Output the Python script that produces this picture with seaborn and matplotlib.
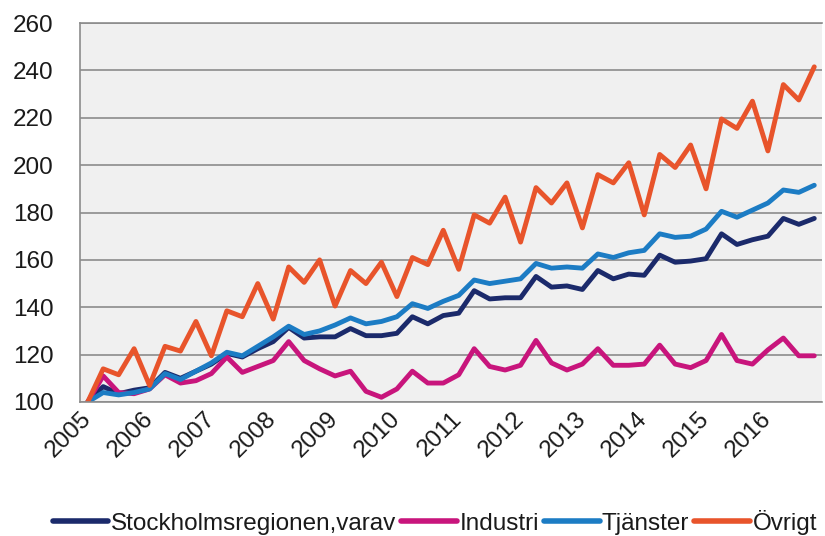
import pandas as pd
import matplotlib.pyplot as plt
import seaborn as sns
from matplotlib.lines import Line2D

years = [str(y) for y in range(2005, 2017)]
quarters = [f"{y}K{q}" for y in years for q in range(1, 5)]

stockholm = [100, 106.5, 103.5, 105, 106, 112.5, 110, 113, 116, 120.5, 119, 122.5,
             125.5, 131.5, 127, 127.5, 127.5, 131, 128, 128, 129, 136, 133, 136.5,
             137.5, 147, 143.5, 144, 144, 153, 148.5, 149, 147.5, 155.5, 152, 154,
             153.5, 162, 159, 159.5, 160.5, 171, 166.5, 168.5, 170, 177.5, 175, 177.5]
industri = [100, 111, 104, 103.5, 105.5, 111.5, 108, 109, 112, 119, 112.5, 115,
            117.5, 125.5, 117.5, 114, 111, 113, 104.5, 102, 105.5, 113, 108, 108,
            111.5, 122.5, 115, 113.5, 115.5, 126, 116.5, 113.5, 116, 122.5, 115.5, 115.5,
            116, 124, 116, 114.5, 117.5, 128.5, 117.5, 116, 122, 127, 119.5, 119.5]
tjanster = [100, 104, 103, 104, 105.5, 112, 109.5, 113, 116.5, 121, 119.5, 123.5,
            127.5, 132, 128.5, 130, 132.5, 135.5, 133, 134, 136, 141.5, 139.5, 142.5,
            145, 151.5, 150, 151, 152, 158.5, 156.5, 157, 156.5, 162.5, 161, 163,
            164, 171, 169.5, 170, 173, 180.5, 178, 181, 184, 189.5, 188.5, 191.5]
ovrigt = [100, 114, 111.5, 122.5, 107, 123.5, 121.5, 134, 119.5, 138.5, 136, 150,
          135, 157, 150.5, 160, 140.5, 155.5, 150, 159, 144.5, 161, 158, 172.5,
          156, 179, 175.5, 186.5, 167.5, 190.5, 184, 192.5, 173.5, 196, 192.5, 201,
          179, 204.5, 199, 208.5, 190, 219.5, 215.5, 227, 206, 234, 227.5, 241.5]

series_names = ["Stockholmsregionen,varav", "Industri", "Tjänster", "Övrigt"]
colors = ["#1B2A6B", "#C8157C", "#1C7CC4", "#E8542B"]

df = pd.DataFrame({"Kvartal": quarters,
                   series_names[0]: stockholm,
                   series_names[1]: industri,
                   series_names[2]: tjanster,
                   series_names[3]: ovrigt})
df = df.melt(id_vars="Kvartal", var_name="Serie", value_name="Index")

sns.set_style("white")
plt.rcParams['font.family'] = ['Liberation Sans', 'DejaVu Sans']

fig = plt.figure(figsize=(8.25, 5.36), dpi=100)
ax = fig.add_axes([80 / 825, 1 - 402 / 536, 742 / 825, 379 / 536])

sns.lineplot(data=df, x="Kvartal", y="Index", hue="Serie", hue_order=series_names,
             palette=dict(zip(series_names, colors)), linewidth=3.5, sort=False,
             legend=False, ax=ax)

grid_col = "#8C8C8C"
ax.set_facecolor("#F0F0F0")
ax.set_ylim(100, 260)
ax.set_yticks(range(100, 261, 20))
ax.set_xlim(-0.5, len(quarters) - 0.5)
ax.grid(axis="y", color=grid_col, linewidth=1.2)
ax.grid(axis="x", visible=False)
ax.set_axisbelow(True)
for side in ["left", "bottom", "top"]:
    ax.spines[side].set_color(grid_col)
    ax.spines[side].set_linewidth(1.2)
ax.spines["right"].set_visible(False)

# tick marks on category borders, year labels on every 4th category
ax.set_xticks([i - 0.5 for i in range(len(quarters) + 1)])
ax.set_xticklabels([])
ax.set_xticks(range(0, len(quarters), 4), minor=True)
ax.set_xticklabels(years, minor=True, rotation=45, ha="right", va="center",
                   rotation_mode="anchor", fontsize=17.5, color="#1a1a1a")
ax.tick_params(axis="x", which="major", direction="out", length=5, width=1, color=grid_col)
ax.tick_params(axis="x", which="minor", length=0, pad=10)
ax.tick_params(axis="y", direction="out", length=7, width=1, color=grid_col,
               labelsize=17.5, labelcolor="#1a1a1a", pad=12)
ax.set_xlabel("")
ax.set_ylabel("")

handles = [Line2D([], [], color=c, linewidth=4) for c in colors]
fig.legend(handles, series_names, loc="center", bbox_to_anchor=(0.527, 0.026), ncol=4,
           frameon=False, handlelength=2.3, handletextpad=0.1, columnspacing=0.2,
           fontsize=17.5, borderpad=0, borderaxespad=0, labelcolor="#1a1a1a")

plt.savefig("out.png", dpi=100)
plt.close()
